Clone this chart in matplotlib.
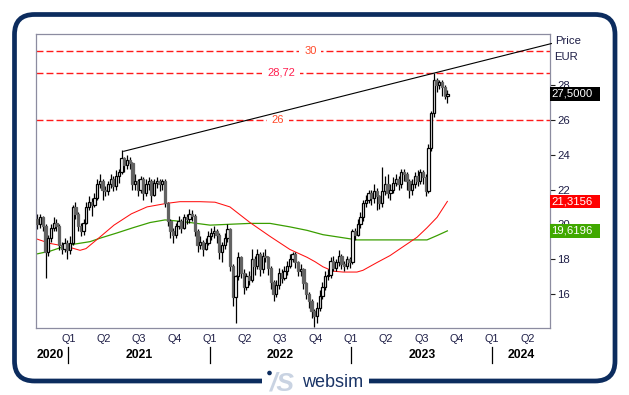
import matplotlib
matplotlib.use("Agg")
import matplotlib.pyplot as plt
from matplotlib.patches import FancyBboxPatch, Rectangle, Circle
from matplotlib.transforms import Affine2D, blended_transform_factory

plt.rcParams['font.family'] = ['Liberation Sans', 'DejaVu Sans']

# ---------------- data ----------------
first_open = 20.3
closes = [
    20.0, 20.4, 19.9, 18.4, 19.2, 19.8, 20.1, 19.9, 18.8, 18.6,
    18.9, 18.5, 18.9, 21.0, 20.6, 19.9, 19.6, 20.1, 21.0, 21.3,
    21.1, 21.5, 22.3, 22.5, 22.0, 21.9, 22.3, 22.6, 22.2, 22.8,
    23.0, 23.8, 23.4, 23.7, 23.5, 22.3, 22.5, 22.0, 22.6, 21.8,
    22.3, 22.5, 21.7, 22.4, 22.5, 22.3, 22.5, 21.2, 20.2, 19.6,
    19.4, 19.9, 20.2, 19.8, 20.4, 20.3, 20.6, 20.5, 19.6, 18.8,
    19.0, 18.6, 18.9, 19.3, 19.5, 19.6, 19.4, 18.4, 18.8, 19.2,
    19.7, 17.6, 15.8, 17.0, 18.1, 17.2, 16.4, 17.0, 16.8, 18.0,
    17.6, 18.3, 17.4, 18.2, 18.1, 17.5, 16.7, 16.0, 16.5, 17.2,
    16.9, 17.3, 17.6, 18.0, 18.3, 17.8, 17.3, 17.4, 16.6, 16.0,
    15.6, 15.0, 14.7, 15.2, 15.9, 16.4, 17.0, 17.1, 17.9, 17.5,
    17.8, 18.2, 17.7, 17.6, 18.0, 17.8, 19.6, 19.4, 20.0, 20.4,
    21.2, 21.4, 21.8, 21.5, 21.9, 21.6, 21.2, 21.9, 22.3, 21.8,
    22.0, 22.4, 22.6, 22.3, 23.0, 22.9, 22.5, 22.0, 22.3, 22.8,
    22.5, 23.0, 22.7, 21.9, 24.4, 26.4, 28.3, 28.0, 28.2, 27.9,
    27.4, 27.5]
highs = [
    20.6, 20.6, 20.5, 20.0, 19.4, 20.0, 20.4, 20.3, 20.0, 19.0,
    19.2, 19.1, 19.3, 21.1, 21.3, 20.7, 20.1, 20.3, 21.3, 21.6,
    21.5, 21.8, 22.6, 22.9, 22.6, 22.2, 22.5, 22.9, 22.8, 23.1,
    23.2, 24.27, 23.9, 24.0, 23.9, 23.6, 22.9, 22.6, 22.8, 22.7,
    22.6, 22.7, 22.6, 22.6, 22.7, 22.6, 22.6, 22.6, 21.3, 20.3,
    19.8, 20.1, 20.5, 20.3, 20.6, 20.6, 20.9, 20.8, 20.6, 19.7,
    19.3, 19.1, 19.2, 19.6, 19.8, 19.9, 19.7, 19.5, 19.0, 19.5,
    20.0, 19.8, 17.7, 17.1, 18.4, 18.2, 17.4, 17.2, 17.3, 18.6,
    18.2, 18.6, 18.4, 18.4, 18.6, 18.2, 17.6, 16.8, 16.8, 17.5,
    17.4, 17.6, 17.9, 18.3, 18.4, 18.4, 17.9, 17.7, 17.5, 16.7,
    16.1, 15.7, 15.1, 15.5, 16.2, 16.7, 17.3, 17.4, 18.1, 18.2,
    18.0, 18.5, 18.3, 17.9, 18.2, 18.1, 19.7, 19.8, 20.3, 20.7,
    21.4, 21.7, 22.0, 22.0, 22.3, 22.1, 21.7, 23.3, 22.8, 22.9,
    22.3, 22.7, 22.9, 22.8, 23.2, 23.2, 23.0, 22.6, 22.6, 23.0,
    23.1, 23.2, 23.1, 22.9, 24.6, 26.5, 28.72, 28.4, 28.3, 28.3,
    28.0, 27.7]
lows = [
    19.7, 19.8, 19.6, 16.9, 18.2, 19.0, 19.6, 19.6, 18.5, 18.3,
    18.4, 18.0, 18.3, 18.8, 20.3, 19.6, 19.3, 19.4, 20.0, 20.8,
    20.5, 21.0, 21.4, 22.1, 21.4, 21.6, 21.7, 22.1, 21.9, 22.0,
    22.4, 22.9, 23.0, 23.2, 23.2, 22.0, 22.0, 21.6, 21.8, 21.4,
    21.6, 22.0, 21.3, 21.6, 22.1, 21.9, 22.0, 21.0, 19.9, 19.2,
    18.9, 19.2, 19.7, 19.5, 19.7, 20.0, 20.1, 20.2, 19.3, 18.4,
    18.6, 18.2, 18.5, 18.8, 19.1, 19.2, 18.9, 18.0, 17.8, 18.6,
    19.0, 17.3, 15.3, 14.3, 16.8, 16.9, 16.0, 16.2, 16.5, 16.7,
    17.1, 17.4, 17.0, 17.2, 17.8, 17.1, 16.3, 15.6, 15.8, 16.3,
    16.6, 16.8, 17.1, 17.5, 17.8, 17.5, 17.0, 17.0, 16.3, 15.7,
    15.2, 14.6, 14.1, 14.3, 15.0, 15.7, 16.2, 16.8, 16.9, 17.3,
    17.3, 17.6, 17.4, 17.3, 17.4, 17.5, 17.7, 19.1, 19.3, 19.8,
    20.2, 21.0, 21.2, 21.1, 21.2, 20.8, 20.9, 21.0, 21.7, 21.5,
    21.4, 21.8, 22.2, 22.0, 22.1, 22.5, 22.0, 21.5, 21.7, 22.1,
    22.2, 22.3, 22.3, 21.6, 21.8, 24.2, 26.2, 27.6, 27.8, 27.4,
    27.2, 27.0]

# moving averages (week index, value)
ma_red_weeks = [0, 4.6, 11.3, 15.7, 17.9, 23.3, 28.2, 34.6, 40.4, 47.5,
                52.5, 59.9, 65.4, 70.9, 78.3, 85.7, 93.0, 99.3, 102.2, 105.2,
                108.9, 112.6, 117.7, 119.9, 125.1, 129.9, 134.6, 139.8, 143.5,
                147.2, 151]
ma_red_vals = [19.14, 18.9, 18.7, 18.5, 18.6, 19.3, 19.95, 20.6, 21.0, 21.2,
               21.3, 21.3, 21.27, 21.0, 20.1, 19.3, 18.55, 18.1, 17.85, 17.55,
               17.3, 17.25, 17.25, 17.35, 17.8, 18.2, 18.7, 19.25, 19.8,
               20.4, 21.3156]
ma_green_weeks = [0, 4.6, 11.3, 19.4, 23.1, 29.3, 35.2, 41.5, 47.0, 50.7,
                  56.2, 63.6, 70.9, 78.3, 85.7, 93.0, 99.3, 105.2, 111.5,
                  117.7, 123.6, 129.9, 136.1, 143.5, 147.2, 151]
ma_green_vals = [18.3, 18.45, 18.8, 19.0, 19.2, 19.5, 19.8, 20.1, 20.25, 20.2,
                 20.1, 19.95, 20.0, 20.05, 20.05, 19.85, 19.65, 19.4, 19.25,
                 19.1, 19.1, 19.1, 19.1, 19.1, 19.35, 19.6196]

trend_x = [31.8, 189.3]
trend_y = [24.2, 30.4]

hlines = [30, 28.72, 26]
hline_labels = ["30", "28,72", "26"]
hline_label_colors = ["#ff4a2a", "#ff2050", "#ff4a2a"]
hline_label_x = [100.5, 89.7, 88.6]

quarter_pos = [11.4, 24.4, 37.4, 50.4, 63.4, 76.4, 89.4, 102.4, 115.4, 128.4,
               141.4, 154.4, 167.4, 180.4]
quarter_labels = ["Q1", "Q2", "Q3", "Q4", "Q1", "Q2", "Q3", "Q4", "Q1", "Q2",
                  "Q3", "Q4", "Q1", "Q2"]
year_sep = [11.4, 63.4, 115.4, 167.4]
year_labels = ["2020", "2021", "2022", "2023", "2024"]
year_label_pos = [4.6, 37.4, 89.6, 141.6, 178.1]

yticks = [16, 18, 20, 22, 24, 26, 28]

last_price = 27.5
last_price_label = "27,5000"
ma_red_last_label = "21,3156"
ma_green_last_label = "19,6196"

# ---------------- figure ----------------
W, H = 629, 395
fig = plt.figure(figsize=(W / 100, H / 100), dpi=100)
fig.patch.set_facecolor("white")
ax = fig.add_axes([36 / W, 1 - 328 / H, 514 / W, 294 / H])
ax.set_xlim(-0.52, 188.8)
ax.set_ylim(14.03, 30.95)

# pixel transform for figure decorations (origin top-left)
T = Affine2D().scale(1 / W, -1 / H).translate(0, 1) + fig.transFigure

# horizontal dashed lines
for v, lab, col, lx in zip(hlines, hline_labels, hline_label_colors, hline_label_x):
    ax.axhline(v, color="#ff1a1a", lw=1.0, ls=(0, (5, 2.2)), zorder=1)
    ax.text(lx, v, lab, color=col, fontsize=8, ha="center", va="center", zorder=1.2,
            bbox=dict(boxstyle="square,pad=0.45", fc="white", ec="none"))

# moving averages
ax.plot(ma_green_weeks, ma_green_vals, color="#3a9e00", lw=0.9, zorder=1.5)
ax.plot(ma_red_weeks, ma_red_vals, color="#ff1010", lw=0.75, zorder=1.5)

# candles
opens = [first_open] + closes[:-1]
for i, (o, c, h, l) in enumerate(zip(opens, closes, highs, lows)):
    ax.vlines(i, l, h, color="black", lw=0.9, zorder=2)
    bottom = min(o, c)
    height = max(abs(c - o), 0.06)
    if c >= o:
        ax.bar(i, height, bottom=bottom, width=0.85, color="white",
               edgecolor="black", linewidth=0.9, zorder=3)
    else:
        ax.bar(i, height, bottom=bottom, width=0.85, color="#626262",
               edgecolor="#626262", linewidth=0.9, zorder=3)

# trend line
ax.plot(trend_x, trend_y, color="black", lw=0.8, zorder=4, clip_on=False)

# spines
for s in ax.spines.values():
    s.set_color("#8c8ca0")
    s.set_linewidth(0.9)

# y axis on the right
ax.yaxis.tick_right()
ax.set_yticks(yticks)
ax.set_yticklabels([str(t) for t in yticks])
ax.tick_params(axis="y", direction="out", length=3.6, width=0.8, color="#202020",
               pad=1.5, labelsize=8.2, labelcolor="#1e1e46")

# x axis quarters
ax.set_xticks(quarter_pos)
ax.set_xticklabels(quarter_labels)
ax.tick_params(axis="x", length=0, pad=4, labelsize=7.8, labelcolor="#1e1e46")

# year separators and labels
bt = blended_transform_factory(ax.transData, T)
for xs in year_sep:
    ax.plot([xs, xs], [347, 363], color="black", lw=0.9, transform=bt, clip_on=False)
for xp, lab in zip(year_label_pos, year_labels):
    ax.text(xp, 355, lab, transform=bt, ha="center", va="center", fontsize=8.8,
            fontweight="bold", color="black")

# Price / EUR
fig.text(555, 41, "Price", transform=T, fontsize=8.2, ha="left", va="center", color="#1e1e46")
fig.text(554, 57, "EUR", transform=T, fontsize=8.2, ha="left", va="center", color="#1e1e46")

# value boxes
bt_y = blended_transform_factory(T, ax.transData)
for val, lab, fc in [(last_price, last_price_label, "black"),
                     (ma_red_vals[-1], ma_red_last_label, "#ff0000"),
                     (ma_green_vals[-1], ma_green_last_label, "#40a800")]:
    ax.add_patch(Rectangle((550, val - 0.39), 50, 0.78, transform=bt_y, fc=fc, ec="none",
                           clip_on=False, zorder=10))
    ax.text(551, val, lab, transform=bt_y, fontsize=8.2, color="white", ha="left",
            va="center", zorder=11, clip_on=False)

# outer rounded frame
frame = FancyBboxPatch((14.5, 14.5), 600.5, 366.5,
                       boxstyle="round,pad=0,rounding_size=20",
                       transform=T, fc="none", ec="#0c2c5e", lw=3.4)
fig.add_artist(frame)
fig.add_artist(Rectangle((262, 375), 107, 12, transform=T, fc="white", ec="none"))

# logo
fig.add_artist(Circle((269.5, 373), 2.3, transform=T, fc="#0c2c5e", ec="none"))
fig.text(270, 383.5, "/S", transform=T, fontsize=19, fontstyle="italic", fontweight="bold",
         color="#c9d3e2", ha="left", va="center")
fig.text(302, 382.5, "websim", transform=T, fontsize=13, color="#1a3466",
         ha="left", va="center")

fig.savefig("out.png", dpi=100, facecolor="white")
